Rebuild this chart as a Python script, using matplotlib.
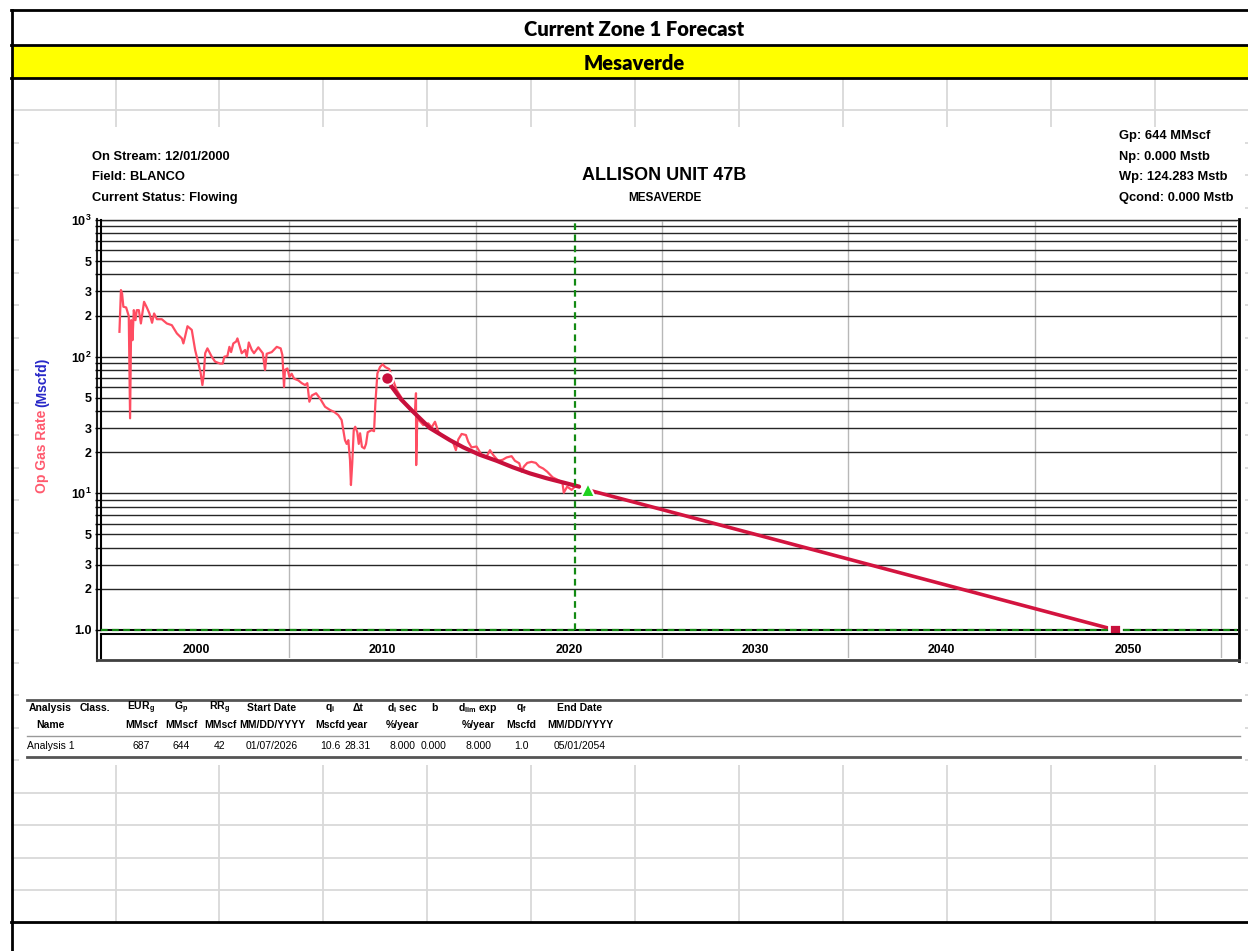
import matplotlib
matplotlib.use('Agg')
import matplotlib.pyplot as plt
from matplotlib.patches import Rectangle
from matplotlib.ticker import FixedLocator, NullLocator

plt.rcParams['font.family'] = ['Liberation Sans', 'DejaVu Sans']
plt.rcParams['font.weight'] = 'bold'
plt.rcParams['mathtext.fontset'] = 'custom'
plt.rcParams['mathtext.rm'] = 'Liberation Sans:bold'
plt.rcParams['mathtext.bf'] = 'Liberation Sans:bold'
plt.rcParams['mathtext.it'] = 'Liberation Sans:bold:italic'

# ---- data ----
hist_year = [2000.89, 2000.97, 2001.03, 2001.10, 2001.25, 2001.39, 2001.46, 2001.52, 2001.59, 2001.66,
             2001.75, 2001.82, 2001.93, 2002.04, 2002.21, 2002.36, 2002.50, 2002.64, 2002.75, 2002.90,
             2003.16, 2003.43, 2003.70, 2003.97, 2004.24, 2004.32, 2004.41, 2004.54, 2004.77, 2004.95,
             2005.13, 2005.25, 2005.34, 2005.41, 2005.49, 2005.61, 2005.84, 2006.02, 2006.29, 2006.43,
             2006.52, 2006.68, 2006.79, 2006.88, 2007.00, 2007.15, 2007.22, 2007.33, 2007.45, 2007.63,
             2007.72, 2007.83, 2007.99, 2008.11, 2008.34, 2008.58, 2008.70, 2008.79, 2009.06, 2009.33,
             2009.54, 2009.63, 2009.72, 2009.77, 2009.90, 2010.01, 2010.13, 2010.26, 2010.49, 2010.67,
             2010.85, 2010.97, 2011.08, 2011.21, 2011.44, 2011.65, 2011.92, 2012.19, 2012.40, 2012.63,
             2012.81, 2012.90, 2012.99, 2013.08, 2013.17, 2013.26, 2013.31, 2013.38, 2013.46, 2013.54,
             2013.65, 2013.73, 2013.80, 2013.90, 2014.03, 2014.12, 2014.21, 2014.42, 2014.55, 2014.62,
             2014.73, 2014.87, 2015.01, 2015.15, 2015.37, 2015.76, 2016.21, 2016.57, 2016.75, 2016.80,
             2016.81, 2016.87, 2017.19, 2017.46, 2017.64, 2017.82, 2018.00, 2018.26, 2018.53, 2018.80,
             2018.94, 2019.07, 2019.25, 2019.48, 2019.60, 2019.78, 2020.05, 2020.32, 2020.59, 2020.77,
             2020.94, 2021.21, 2021.45, 2021.66, 2021.93, 2022.11, 2022.34, 2022.47, 2022.59, 2022.77,
             2023.00, 2023.23, 2023.41, 2023.62, 2023.84, 2024.13, 2024.43, 2024.66, 2024.73, 2024.91,
             2025.15, 2025.38, 2025.56]
hist_rate = [152, 307, 290, 232, 229, 198, 35.4, 185, 132, 219,
             185, 219, 219, 175, 252, 229, 207, 177, 207, 188,
             188, 175, 170, 148, 136, 125, 140, 167, 157, 112,
             89, 75.5, 62, 73, 106, 115, 100, 92, 89, 89,
             100, 101, 118, 108, 125, 129, 136, 121, 106, 112,
             100, 127, 112, 106, 117, 106, 80, 105, 108, 118,
             115, 103, 60, 80, 82, 71, 75, 69, 67, 64,
             62, 64, 46.8, 52, 54, 49.5, 43, 40.7, 39.5, 37.4,
             34.4, 29, 24.5, 23, 24.5, 17.5, 11.5, 16.6, 29, 30.7,
             28, 23, 27.5, 21.9, 21.3, 23, 28, 29, 28.5, 45.5,
             75.5, 84, 88, 84, 81, 57, 45.5, 39.5, 39.5, 54,
             16.1, 35.4, 31.6, 32.5, 30.4, 33.4, 28.2, 26, 25.2, 23.4,
             20.7, 24.8, 27.2, 26.7, 23.9, 21.7, 22, 19.1, 18.6, 20.7,
             19.1, 17.3, 17.6, 18.3, 18.7, 17.3, 16.6, 14.4, 15.7, 16.7,
             17, 16.7, 15.7, 15.2, 14.4, 13.1, 12.5, 11.9, 10.1, 11.2,
             10.6, 11.4, 11.1]

fit_year = [2015.26, 2015.50, 2016.00, 2016.65, 2017.55, 2018.62, 2019.34, 2020.20,
            2021.13, 2022.00, 2022.91, 2023.80, 2024.70, 2025.55]
fit_rate = [69.4, 60.2, 48.7, 39.5, 30.0, 24.5, 21.7, 19.2, 17.3, 15.5, 14.0, 12.9, 12.0, 11.2]

fcst_year = [2026.02, 2054.33]
fcst_rate = [10.6, 1.0]
current_year = 2025.33
limit_rate = 1.0

decade_starts = [2000, 2010, 2020, 2030, 2040, 2050]
decade_edges = [2010, 2020, 2030, 2040, 2050, 2060]

ytick_vals = [1, 2, 3, 5, 10, 20, 30, 50, 100, 200, 300, 500, 1000]
ytick_text = ['1.0', '2', '3', '5', '$10^{1}$', '2', '3', '5', '$10^{2}$', '2', '3', '5', '$10^{3}$']

left_info = ['On Stream: 12/01/2000', 'Field: BLANCO', 'Current Status: Flowing']
right_info = ['Gp: 644 MMscf', 'Np: 0.000 Mstb', 'Wp: 124.283 Mstb', 'Qcond: 0.000 Mstb']

tbl_head1 = ['Analysis', 'Class.', r'EUR$_\mathrm{g}$', r'G$_\mathrm{p}$', r'RR$_\mathrm{g}$', 'Start Date',
             r'q$_\mathrm{i}$', '\u0394t', r'd$_\mathrm{i}$ sec', 'b', r'd$_\mathrm{lim}$ exp',
             r'q$_\mathrm{f}$', 'End Date']
tbl_head2 = ['Name', '', 'MMscf', 'MMscf', 'MMscf', 'MM/DD/YYYY', 'Mscfd', 'year', '%/year', '',
             '%/year', 'Mscfd', 'MM/DD/YYYY']
tbl_row = ['', '', '687', '644', '42', '01/07/2026', '10.6', '28.31', '8.000', '0.000',
           '8.000', '1.0', '05/01/2054']
tbl_name = 'Analysis 1'

# ---- figure ----
W, H = 1248, 951
fig = plt.figure(figsize=(W / 100, H / 100), dpi=100)

def px_axes(l, t, r, b):
    return fig.add_axes([l / W, 1 - b / H, (r - l) / W, (b - t) / H])

bg = px_axes(0, 0, W, H)
bg.set_xlim(0, W)
bg.set_ylim(H, 0)
bg.axis('off')

# spreadsheet grid
grid_c = '#d9d9d9'
cols = [116, 219, 323, 427, 531, 635, 739, 843, 947, 1051, 1155]
for c in cols:
    bg.plot([c, c], [78, 922], color=grid_c, lw=1.3, zorder=1)
for k in range(26):
    yy = 110 + 32.5 * k
    bg.plot([12, W], [yy, yy], color=grid_c, lw=1.3, zorder=1)
bg.add_patch(Rectangle((19, 127), 1245 - 19, 765 - 127, facecolor='white', edgecolor='none', zorder=2))

# sheet header rows
bg.add_patch(Rectangle((12, 45), W - 12, 33, facecolor='#ffff00', edgecolor='none', zorder=3))
for yy in [10, 45, 78, 922]:
    bg.plot([11, W], [yy, yy], color='black', lw=2, zorder=4)
bg.plot([11.5, 11.5], [10, H], color='black', lw=2, zorder=4)
bg.text(634, 30, 'Current Zone 1 Forecast', ha='center', va='center', fontsize=14.5,
        family=['Lato', 'DejaVu Sans'], fontweight='heavy', zorder=5)
bg.text(634, 63, 'Mesaverde', ha='center', va='center', fontsize=14.5,
        family=['Lato', 'DejaVu Sans'], fontweight='heavy', zorder=5)

# chart header text
for i, s in enumerate(left_info):
    bg.text(92, 157 + 20.5 * i, s, ha='left', va='center', fontsize=9.3, zorder=5)
for i, s in enumerate(right_info):
    bg.text(1119, 136 + 20.7 * i, s, ha='left', va='center', fontsize=9.3, zorder=5)
bg.text(664, 175, 'ALLISON UNIT 47B', ha='center', va='center', fontsize=13, zorder=5)
bg.text(665, 198, 'MESAVERDE', ha='center', va='center', fontsize=8.5, zorder=5)

# frame lines around the plot
bg.plot([97, 97], [219, 661], color='#202020', lw=1.5, zorder=5)
bg.plot([1238.5, 1238.5], [219, 661], color='black', lw=2, zorder=5)
bg.plot([97, 1239], [660, 660], color='#404040', lw=2, zorder=5)

# main plot
ax = px_axes(101, 220, 1237, 630)
ax.set_zorder(6)
ax.set_yscale('log')
ax.set_ylim(1, 1000)
ax.set_xlim(1999.9, 2060.85)

grid_vals = [m * 10 ** e for e in range(3) for m in range(1, 10)] + [1000]
ax.yaxis.set_major_locator(FixedLocator(grid_vals))
ax.yaxis.set_minor_locator(NullLocator())
ax.set_yticklabels([ytick_text[ytick_vals.index(v)] if v in ytick_vals else '' for v in grid_vals])
ax.grid(axis='y', color='#262626', lw=1.0)
ax.axhline(1000, color='#262626', lw=1.0, clip_on=False, zorder=1)
ax.set_xticks(decade_edges)
ax.set_xticklabels([])
ax.grid(axis='x', color='#b8b8b8', lw=1.0)
ax.tick_params(axis='y', length=4, width=1, labelsize=9, pad=3)
ax.tick_params(axis='x', length=0)
for sp in ['left', 'bottom']:
    ax.spines[sp].set_linewidth(1.5)
ax.spines['top'].set_visible(False)
ax.spines['right'].set_visible(False)

ax.plot(hist_year, hist_rate, color='#ff4d62', lw=1.6, zorder=3)
ax.plot(fit_year, fit_rate, color='#c8103c', lw=3, solid_capstyle='round', zorder=4)
ax.plot(fcst_year, fcst_rate, color='#d3143f', lw=2.6, zorder=4)
ax.plot(fit_year[0], fit_rate[0], 'o', ms=9, color='#c8103c', mec='white', mew=1.5, zorder=5)
ax.plot(fcst_year[0], fcst_rate[0], '^', ms=10, color='#1ed21e', mec='white', mew=1.5, zorder=5)
ax.axvline(current_year, color='#138a13', lw=1.6, ls=(0, (3, 2)), zorder=4)
ax.axhline(limit_rate, color='#138a13', lw=1.6, ls=(0, (3, 2)), zorder=4, clip_on=False)
ax.plot(fcst_year[-1], fcst_rate[-1], 's', ms=8, color='#c8103c', mec='white', mew=2,
        zorder=6, clip_on=False)

# year strip under the plot
ax2 = px_axes(101, 634, 1237, 658)
ax2.set_zorder(6)
ax2.set_xlim(ax.get_xlim())
ax2.set_ylim(0, 1)
ax2.set_yticks([])
ax2.set_xticks(decade_edges)
ax2.set_xticklabels([])
ax2.tick_params(axis='x', length=0)
ax2.grid(axis='x', color='#b8b8b8', lw=1.0)
ax2.spines['top'].set_linewidth(1.5)
ax2.spines['left'].set_linewidth(1.5)
ax2.spines['right'].set_visible(False)
ax2.spines['bottom'].set_visible(False)
for d in decade_starts:
    ax2.text(d + 5, 0.32, str(d), ha='center', va='center', fontsize=8.8)

# y label in two colours
t1 = bg.text(42, 493, 'Op Gas Rate', rotation=90, ha='center', va='bottom', fontsize=10,
             color='#ff5a6e', zorder=5)
fig.canvas.draw()
bb = t1.get_window_extent()
y_top = bg.transData.inverted().transform((0, bb.y1))[1]
bg.text(42, y_top - 3, '(Mscfd)', rotation=90, ha='center', va='bottom', fontsize=10,
        color='#2828c8', zorder=5)

# analysis table
tbl_x = [50, 95, 141, 181, 220, 272, 330, 358, 402, 434, 478, 521, 580]
bg.plot([27, 1240], [700, 700], color='#555555', lw=2, zorder=5)
bg.plot([27, 1240], [736, 736], color='#999999', lw=1, zorder=5)
bg.plot([27, 1240], [757, 757], color='#555555', lw=2, zorder=5)
for x, h1, h2, v in zip(tbl_x, tbl_head1, tbl_head2, tbl_row):
    bg.text(x, 708, h1, ha='center', va='center', fontsize=7.5, zorder=5)
    bg.text(x, 725, h2, ha='center', va='center', fontsize=7.5, zorder=5)
    if v:
        bg.text(x, 746, v, ha='center', va='center', fontsize=7.5, fontweight='normal', zorder=5)
bg.text(27, 746, tbl_name, ha='left', va='center', fontsize=7.5, fontweight='normal', zorder=5)

fig.savefig('out.png', dpi=100)
